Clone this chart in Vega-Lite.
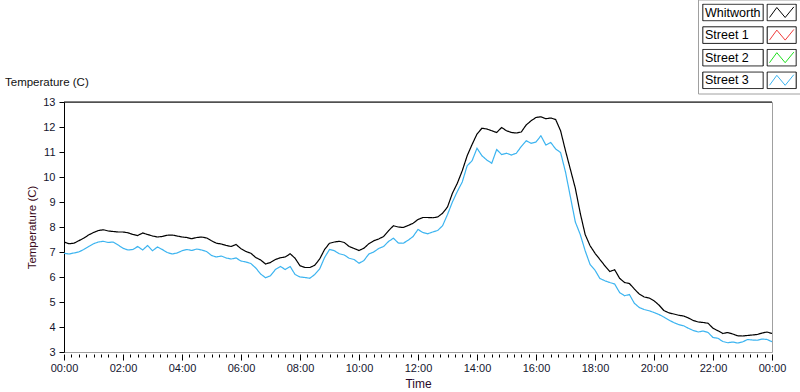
{
  "$schema": "https://vega.github.io/schema/vega-lite/v6.json",
  "width": 708,
  "height": 250,
  "autosize": {"type": "none"},
  "padding": {"left": 64, "top": 102, "right": 28, "bottom": 40},
  "background": "white",
  "title": {"text": "Temperature (C)", "anchor": "start", "frame": "group", "orient": "top", "offset": 0, "dx": -59, "dy": 100, "baseline": "bottom", "font": "Liberation Sans", "fontSize": 11.5, "fontWeight": "normal", "color": "#111111"},
  "config": {"view": {"stroke": "#a0a0a0", "strokeWidth": 1}, "font": "Liberation Sans"},
  "datasets": {
    "temps": [
      {"m":0,"s":"Whitworth","v":7.40},{"m":10,"s":"Whitworth","v":7.33},{"m":20,"s":"Whitworth","v":7.35},{"m":30,"s":"Whitworth","v":7.45},{"m":40,"s":"Whitworth","v":7.55},{"m":50,"s":"Whitworth","v":7.68},{"m":60,"s":"Whitworth","v":7.78},{"m":70,"s":"Whitworth","v":7.86},{"m":80,"s":"Whitworth","v":7.89},{"m":90,"s":"Whitworth","v":7.84},
      {"m":100,"s":"Whitworth","v":7.82},{"m":110,"s":"Whitworth","v":7.80},{"m":120,"s":"Whitworth","v":7.80},{"m":130,"s":"Whitworth","v":7.77},{"m":140,"s":"Whitworth","v":7.70},{"m":150,"s":"Whitworth","v":7.66},{"m":160,"s":"Whitworth","v":7.76},{"m":170,"s":"Whitworth","v":7.70},{"m":180,"s":"Whitworth","v":7.64},{"m":190,"s":"Whitworth","v":7.60},
      {"m":200,"s":"Whitworth","v":7.62},{"m":210,"s":"Whitworth","v":7.67},{"m":220,"s":"Whitworth","v":7.68},{"m":230,"s":"Whitworth","v":7.64},{"m":240,"s":"Whitworth","v":7.60},{"m":250,"s":"Whitworth","v":7.58},{"m":260,"s":"Whitworth","v":7.53},{"m":270,"s":"Whitworth","v":7.58},{"m":280,"s":"Whitworth","v":7.60},{"m":290,"s":"Whitworth","v":7.56},
      {"m":300,"s":"Whitworth","v":7.45},{"m":310,"s":"Whitworth","v":7.35},{"m":320,"s":"Whitworth","v":7.32},{"m":330,"s":"Whitworth","v":7.26},{"m":340,"s":"Whitworth","v":7.22},{"m":350,"s":"Whitworth","v":7.30},{"m":360,"s":"Whitworth","v":7.13},{"m":370,"s":"Whitworth","v":7.02},{"m":380,"s":"Whitworth","v":6.95},{"m":390,"s":"Whitworth","v":6.78},
      {"m":400,"s":"Whitworth","v":6.68},{"m":410,"s":"Whitworth","v":6.52},{"m":420,"s":"Whitworth","v":6.58},{"m":430,"s":"Whitworth","v":6.70},{"m":440,"s":"Whitworth","v":6.77},{"m":450,"s":"Whitworth","v":6.80},{"m":460,"s":"Whitworth","v":6.93},{"m":470,"s":"Whitworth","v":6.75},{"m":480,"s":"Whitworth","v":6.45},{"m":490,"s":"Whitworth","v":6.38},
      {"m":500,"s":"Whitworth","v":6.38},{"m":510,"s":"Whitworth","v":6.47},{"m":520,"s":"Whitworth","v":6.72},{"m":530,"s":"Whitworth","v":7.10},{"m":540,"s":"Whitworth","v":7.35},{"m":550,"s":"Whitworth","v":7.40},{"m":560,"s":"Whitworth","v":7.43},{"m":570,"s":"Whitworth","v":7.38},{"m":580,"s":"Whitworth","v":7.22},{"m":590,"s":"Whitworth","v":7.14},
      {"m":600,"s":"Whitworth","v":7.06},{"m":610,"s":"Whitworth","v":7.15},{"m":620,"s":"Whitworth","v":7.33},{"m":630,"s":"Whitworth","v":7.45},{"m":640,"s":"Whitworth","v":7.52},{"m":650,"s":"Whitworth","v":7.62},{"m":660,"s":"Whitworth","v":7.85},{"m":670,"s":"Whitworth","v":8.05},{"m":680,"s":"Whitworth","v":8.00},{"m":690,"s":"Whitworth","v":7.98},
      {"m":700,"s":"Whitworth","v":8.06},{"m":710,"s":"Whitworth","v":8.15},{"m":720,"s":"Whitworth","v":8.30},{"m":730,"s":"Whitworth","v":8.38},{"m":740,"s":"Whitworth","v":8.38},{"m":750,"s":"Whitworth","v":8.37},{"m":760,"s":"Whitworth","v":8.40},{"m":770,"s":"Whitworth","v":8.55},{"m":780,"s":"Whitworth","v":8.80},{"m":790,"s":"Whitworth","v":9.35},
      {"m":800,"s":"Whitworth","v":9.75},{"m":810,"s":"Whitworth","v":10.25},{"m":820,"s":"Whitworth","v":10.85},{"m":830,"s":"Whitworth","v":11.30},{"m":840,"s":"Whitworth","v":11.72},{"m":850,"s":"Whitworth","v":11.95},{"m":860,"s":"Whitworth","v":11.92},{"m":870,"s":"Whitworth","v":11.85},{"m":880,"s":"Whitworth","v":11.78},{"m":890,"s":"Whitworth","v":11.98},
      {"m":900,"s":"Whitworth","v":11.85},{"m":910,"s":"Whitworth","v":11.78},{"m":920,"s":"Whitworth","v":11.76},{"m":930,"s":"Whitworth","v":11.80},{"m":940,"s":"Whitworth","v":12.08},{"m":950,"s":"Whitworth","v":12.25},{"m":960,"s":"Whitworth","v":12.38},{"m":970,"s":"Whitworth","v":12.41},{"m":980,"s":"Whitworth","v":12.33},{"m":990,"s":"Whitworth","v":12.36},
      {"m":1000,"s":"Whitworth","v":12.30},{"m":1010,"s":"Whitworth","v":11.85},{"m":1020,"s":"Whitworth","v":11.05},{"m":1030,"s":"Whitworth","v":10.30},{"m":1040,"s":"Whitworth","v":9.55},{"m":1050,"s":"Whitworth","v":8.55},{"m":1060,"s":"Whitworth","v":7.70},{"m":1070,"s":"Whitworth","v":7.25},{"m":1080,"s":"Whitworth","v":6.95},{"m":1090,"s":"Whitworth","v":6.70},
      {"m":1100,"s":"Whitworth","v":6.45},{"m":1110,"s":"Whitworth","v":6.22},{"m":1120,"s":"Whitworth","v":6.29},{"m":1130,"s":"Whitworth","v":5.95},{"m":1140,"s":"Whitworth","v":5.78},{"m":1150,"s":"Whitworth","v":5.74},{"m":1160,"s":"Whitworth","v":5.52},{"m":1170,"s":"Whitworth","v":5.32},{"m":1180,"s":"Whitworth","v":5.20},{"m":1190,"s":"Whitworth","v":5.16},
      {"m":1200,"s":"Whitworth","v":5.05},{"m":1210,"s":"Whitworth","v":4.88},{"m":1220,"s":"Whitworth","v":4.66},{"m":1230,"s":"Whitworth","v":4.57},{"m":1240,"s":"Whitworth","v":4.52},{"m":1250,"s":"Whitworth","v":4.47},{"m":1260,"s":"Whitworth","v":4.44},{"m":1270,"s":"Whitworth","v":4.36},{"m":1280,"s":"Whitworth","v":4.26},{"m":1290,"s":"Whitworth","v":4.20},
      {"m":1300,"s":"Whitworth","v":4.18},{"m":1310,"s":"Whitworth","v":4.15},{"m":1320,"s":"Whitworth","v":3.95},{"m":1330,"s":"Whitworth","v":3.85},{"m":1340,"s":"Whitworth","v":3.74},{"m":1350,"s":"Whitworth","v":3.78},{"m":1360,"s":"Whitworth","v":3.72},{"m":1370,"s":"Whitworth","v":3.65},{"m":1380,"s":"Whitworth","v":3.64},{"m":1390,"s":"Whitworth","v":3.66},
      {"m":1400,"s":"Whitworth","v":3.68},{"m":1410,"s":"Whitworth","v":3.70},{"m":1420,"s":"Whitworth","v":3.76},{"m":1430,"s":"Whitworth","v":3.80},{"m":1440,"s":"Whitworth","v":3.74},
      {"m":0,"s":"Street 3","v":6.95},{"m":10,"s":"Street 3","v":6.92},{"m":20,"s":"Street 3","v":6.96},{"m":30,"s":"Street 3","v":7.00},{"m":40,"s":"Street 3","v":7.10},{"m":50,"s":"Street 3","v":7.22},{"m":60,"s":"Street 3","v":7.33},{"m":70,"s":"Street 3","v":7.40},{"m":80,"s":"Street 3","v":7.43},{"m":90,"s":"Street 3","v":7.38},
      {"m":100,"s":"Street 3","v":7.40},{"m":110,"s":"Street 3","v":7.28},{"m":120,"s":"Street 3","v":7.15},{"m":130,"s":"Street 3","v":7.08},{"m":140,"s":"Street 3","v":7.10},{"m":150,"s":"Street 3","v":7.22},{"m":160,"s":"Street 3","v":7.08},{"m":170,"s":"Street 3","v":7.26},{"m":180,"s":"Street 3","v":7.05},{"m":190,"s":"Street 3","v":7.20},
      {"m":200,"s":"Street 3","v":7.10},{"m":210,"s":"Street 3","v":6.98},{"m":220,"s":"Street 3","v":6.92},{"m":230,"s":"Street 3","v":6.96},{"m":240,"s":"Street 3","v":7.05},{"m":250,"s":"Street 3","v":7.10},{"m":260,"s":"Street 3","v":7.06},{"m":270,"s":"Street 3","v":7.12},{"m":280,"s":"Street 3","v":7.08},{"m":290,"s":"Street 3","v":7.02},
      {"m":300,"s":"Street 3","v":6.86},{"m":310,"s":"Street 3","v":6.80},{"m":320,"s":"Street 3","v":6.84},{"m":330,"s":"Street 3","v":6.76},{"m":340,"s":"Street 3","v":6.72},{"m":350,"s":"Street 3","v":6.76},{"m":360,"s":"Street 3","v":6.64},{"m":370,"s":"Street 3","v":6.60},{"m":380,"s":"Street 3","v":6.54},{"m":390,"s":"Street 3","v":6.36},
      {"m":400,"s":"Street 3","v":6.12},{"m":410,"s":"Street 3","v":5.97},{"m":420,"s":"Street 3","v":6.05},{"m":430,"s":"Street 3","v":6.30},{"m":440,"s":"Street 3","v":6.42},{"m":450,"s":"Street 3","v":6.30},{"m":460,"s":"Street 3","v":6.42},{"m":470,"s":"Street 3","v":6.10},{"m":480,"s":"Street 3","v":6.00},{"m":490,"s":"Street 3","v":5.98},
      {"m":500,"s":"Street 3","v":5.95},{"m":510,"s":"Street 3","v":6.10},{"m":520,"s":"Street 3","v":6.32},{"m":530,"s":"Street 3","v":6.78},{"m":540,"s":"Street 3","v":7.10},{"m":550,"s":"Street 3","v":7.05},{"m":560,"s":"Street 3","v":6.93},{"m":570,"s":"Street 3","v":6.88},{"m":580,"s":"Street 3","v":6.75},{"m":590,"s":"Street 3","v":6.70},
      {"m":600,"s":"Street 3","v":6.55},{"m":610,"s":"Street 3","v":6.66},{"m":620,"s":"Street 3","v":6.92},{"m":630,"s":"Street 3","v":7.00},{"m":640,"s":"Street 3","v":7.14},{"m":650,"s":"Street 3","v":7.22},{"m":660,"s":"Street 3","v":7.42},{"m":670,"s":"Street 3","v":7.55},{"m":680,"s":"Street 3","v":7.36},{"m":690,"s":"Street 3","v":7.35},
      {"m":700,"s":"Street 3","v":7.47},{"m":710,"s":"Street 3","v":7.62},{"m":720,"s":"Street 3","v":7.90},{"m":730,"s":"Street 3","v":7.78},{"m":740,"s":"Street 3","v":7.73},{"m":750,"s":"Street 3","v":7.80},{"m":760,"s":"Street 3","v":7.86},{"m":770,"s":"Street 3","v":8.05},{"m":780,"s":"Street 3","v":8.50},{"m":790,"s":"Street 3","v":9.00},
      {"m":800,"s":"Street 3","v":9.42},{"m":810,"s":"Street 3","v":9.80},{"m":820,"s":"Street 3","v":10.45},{"m":830,"s":"Street 3","v":10.65},{"m":840,"s":"Street 3","v":11.15},{"m":850,"s":"Street 3","v":10.85},{"m":860,"s":"Street 3","v":10.68},{"m":870,"s":"Street 3","v":10.55},{"m":880,"s":"Street 3","v":11.10},{"m":890,"s":"Street 3","v":10.90},
      {"m":900,"s":"Street 3","v":10.95},{"m":910,"s":"Street 3","v":10.88},{"m":920,"s":"Street 3","v":10.95},{"m":930,"s":"Street 3","v":11.22},{"m":940,"s":"Street 3","v":11.45},{"m":950,"s":"Street 3","v":11.35},{"m":960,"s":"Street 3","v":11.40},{"m":970,"s":"Street 3","v":11.65},{"m":980,"s":"Street 3","v":11.28},{"m":990,"s":"Street 3","v":11.38},
      {"m":1000,"s":"Street 3","v":11.12},{"m":1010,"s":"Street 3","v":10.98},{"m":1020,"s":"Street 3","v":10.20},{"m":1030,"s":"Street 3","v":9.20},{"m":1040,"s":"Street 3","v":8.20},{"m":1050,"s":"Street 3","v":7.70},{"m":1060,"s":"Street 3","v":7.05},{"m":1070,"s":"Street 3","v":6.50},{"m":1080,"s":"Street 3","v":6.27},{"m":1090,"s":"Street 3","v":5.94},
      {"m":1100,"s":"Street 3","v":5.85},{"m":1110,"s":"Street 3","v":5.78},{"m":1120,"s":"Street 3","v":5.72},{"m":1130,"s":"Street 3","v":5.38},{"m":1140,"s":"Street 3","v":5.25},{"m":1150,"s":"Street 3","v":5.30},{"m":1160,"s":"Street 3","v":4.95},{"m":1170,"s":"Street 3","v":4.78},{"m":1180,"s":"Street 3","v":4.70},{"m":1190,"s":"Street 3","v":4.65},
      {"m":1200,"s":"Street 3","v":4.58},{"m":1210,"s":"Street 3","v":4.50},{"m":1220,"s":"Street 3","v":4.40},{"m":1230,"s":"Street 3","v":4.28},{"m":1240,"s":"Street 3","v":4.18},{"m":1250,"s":"Street 3","v":4.10},{"m":1260,"s":"Street 3","v":4.05},{"m":1270,"s":"Street 3","v":3.95},{"m":1280,"s":"Street 3","v":3.86},{"m":1290,"s":"Street 3","v":3.80},
      {"m":1300,"s":"Street 3","v":3.84},{"m":1310,"s":"Street 3","v":3.78},{"m":1320,"s":"Street 3","v":3.58},{"m":1330,"s":"Street 3","v":3.55},{"m":1340,"s":"Street 3","v":3.42},{"m":1350,"s":"Street 3","v":3.37},{"m":1360,"s":"Street 3","v":3.40},{"m":1370,"s":"Street 3","v":3.36},{"m":1380,"s":"Street 3","v":3.40},{"m":1390,"s":"Street 3","v":3.50},
      {"m":1400,"s":"Street 3","v":3.48},{"m":1410,"s":"Street 3","v":3.47},{"m":1420,"s":"Street 3","v":3.52},{"m":1430,"s":"Street 3","v":3.50},{"m":1440,"s":"Street 3","v":3.41}
    ]
  },
  "layer": [
    {
      "data": {"name": "temps"},
      "mark": {"type": "line", "strokeWidth": 1.2, "clip": true},
      "encoding": {
        "x": {
          "field": "m", "type": "quantitative", "title": "Time",
          "scale": {"domain": [0, 1440], "nice": false, "zero": false},
          "axis": {
            "values": [0,15,30,45,60,75,90,105,120,135,150,165,180,195,210,225,240,255,270,285,300,315,330,345,360,375,390,405,420,435,450,465,480,495,510,525,540,555,570,585,600,615,630,645,660,675,690,705,720,735,750,765,780,795,810,825,840,855,870,885,900,915,930,945,960,975,990,1005,1020,1035,1050,1065,1080,1095,1110,1125,1140,1155,1170,1185,1200,1215,1230,1245,1260,1275,1290,1305,1320,1335,1350,1365,1380,1395,1410,1425,1440],
            "offset": 2, "domain": false, "grid": false,
            "tickColor": "black", "tickWidth": 1,
            "tickSize": {"condition": {"test": "datum.value % 120 === 0", "value": 6}, "value": 3},
            "labelExpr": "datum.value % 120 === 0 ? ((floor(datum.value / 60) % 24) < 10 ? '0' : '') + (floor(datum.value / 60) % 24) + ':00' : ''",
            "labelFlush": false, "labelOverlap": false, "labelBound": false,
            "labelPadding": 2, "labelFont": "Liberation Sans", "labelFontSize": 11, "labelColor": "#14142e",
            "titleFont": "Liberation Sans", "titleFontSize": 12, "titleFontWeight": "normal", "titleColor": "#2a0a2a", "titlePadding": 5
          }
        },
        "y": {
          "field": "v", "type": "quantitative", "title": "Temperature (C)",
          "scale": {"domain": [3, 13], "nice": false, "zero": false},
          "axis": {
            "values": [3,4,5,6,7,8,9,10,11,12,13],
            "labelOverlap": false, "labelFlush": false,
            "grid": false, "domainColor": "black", "tickColor": "black", "tickSize": 5,
            "labelPadding": 4, "labelFont": "Liberation Sans", "labelFontSize": 11, "labelColor": "#14142e",
            "titleFont": "Liberation Sans", "titleFontSize": 11.5, "titleFontWeight": "normal", "titleColor": "#3a0a20", "titlePadding": 5
          }
        },
        "color": {
          "field": "s", "type": "nominal",
          "scale": {"domain": ["Whitworth", "Street 1", "Street 2", "Street 3"], "range": ["#000000", "#f03c3c", "#20e020", "#3cb4f0"]},
          "legend": {
            "orient": "none", "legendX": 634, "legendY": -102.5, "direction": "vertical", "title": null,
            "padding": 4, "rowPadding": 4.6, "strokeColor": null, "clipHeight": 18,
            "symbolType": "M-1,-0.178M1,0.178M0.428,0.107L0.585,-0.107L0.764,0.107L0.949,-0.12",
            "symbolSize": 8724, "symbolStrokeWidth": 1, "symbolFillColor": "transparent", "symbolOffset": 0,
            "labelOffset": -92, "labelAlign": "left", "labelFont": "Liberation Sans", "labelFontSize": 12.5, "labelOpacity": 0, "labelLimit": 200,
            "encode": {"entries": {"update": {"width": {"value": 95}}}}
          }
        },
        "strokeDash": {
          "field": "s", "type": "nominal",
          "scale": {"domain": ["Street 3", "Street 2", "Street 1", "Whitworth"], "range": [[1, 0], [1, 0], [1, 0], [1, 0]]},
          "legend": {
            "values": ["Whitworth", "Street 1", "Street 2", "Street 3"],
            "orient": "none", "legendX": 634, "legendY": -102.5, "direction": "vertical", "title": null,
            "padding": 4, "rowPadding": 4.6, "strokeColor": "#a0a0a0", "clipHeight": 18,
            "symbolType": "M-1,-0.178L0.293,-0.178L0.293,0.178L-1,0.178Z M0.379,-0.178L1,-0.178L1,0.178L0.379,0.178Z",
            "symbolSize": 8724, "symbolStrokeWidth": 1, "symbolFillColor": "transparent", "symbolStrokeColor": "black", "symbolOffset": 0,
            "labelOffset": -92, "labelAlign": "left", "labelFont": "Liberation Sans", "labelFontSize": 12.5, "labelColor": "black", "labelLimit": 200,
            "encode": {"symbols": {"update": {"stroke": {"value": "black"}, "fill": {"value": "transparent"}}}, "entries": {"update": {"width": {"value": 95}}}}
          }
        }
      }
    },
    {
      "data": {"values": [{"top": 13}]},
      "mark": {"type": "rule", "color": "black", "strokeWidth": 1},
      "encoding": {
        "y": {
          "field": "top", "type": "quantitative", "title": "Temperature (C)",
          "axis": {
            "values": [3,4,5,6,7,8,9,10,11,12,13],
            "labelOverlap": false, "labelFlush": false,
            "grid": false, "domainColor": "black", "tickColor": "black", "tickSize": 5,
            "labelPadding": 4, "labelFont": "Liberation Sans", "labelFontSize": 11, "labelColor": "#14142e",
            "titleFont": "Liberation Sans", "titleFontSize": 11.5, "titleFontWeight": "normal", "titleColor": "#3a0a20", "titlePadding": 5
          }
        }
      }
    }
  ]
}
